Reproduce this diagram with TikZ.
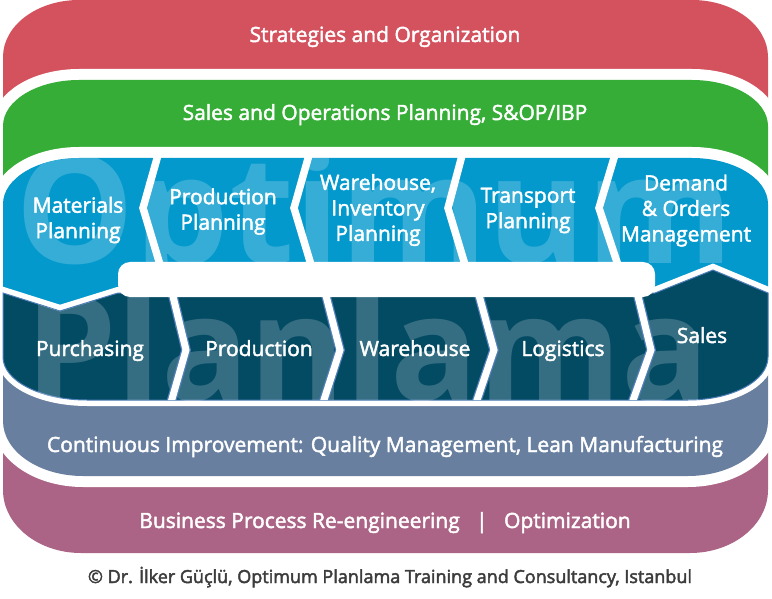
\documentclass[tikz,border=0pt]{standalone}
\usepackage{fontspec}
\setmainfont{Open Sans}
\definecolor{cred}{HTML}{D4515E}
\definecolor{cgreen}{HTML}{35AD37}
\definecolor{cblue}{HTML}{0399CC}
\definecolor{cdark}{HTML}{034A63}
\definecolor{cslate}{HTML}{687F9F}
\definecolor{cmauve}{HTML}{AB6485}
\definecolor{cedge}{HTML}{4F7FB8}
\definecolor{ccap}{HTML}{3C3C3C}
% top band: top y, corner ry, bottom y
\newcommand{\TopBand}[3]{(3,#3) -- (3,{#1+#2}) .. controls (3,{#1+0.448*#2}) and (37,#1) .. (79,#1) -- (692,#1) .. controls (734,#1) and (768,{#1+0.448*#2}) .. (768,{#1+#2}) -- (768,#3) -- cycle}
% bottom band: top y, bottom y, corner ry, corner rx
\newcommand{\BotBand}[4]{(3,#1) -- (3,{#2-#3}) .. controls (3,{#2-0.448*#3}) and ({3+0.448*#4},#2) .. ({3+#4},#2) -- ({768-#4},#2) .. controls ({768-0.448*#4},#2) and (768,{#2-0.448*#3}) .. (768,{#2-#3}) -- (768,#1) -- cycle}
\newcommand{\DarkPath}{(3,293) -- (60,311) -- (118,293) -- (655,293) -- (713,270) -- (768,293) -- (768,357) .. controls (768,381) and (732,400) .. (688,400) -- (87,400) .. controls (41,400) and (3,381) .. (3,357) -- cycle}
\begin{document}
\begin{tikzpicture}[x=1pt,y=-1pt,line join=miter,
  halo/.style={preaction={draw=white,line width=#1}},
  halo/.default=22,
  heavy/.style={execute at begin node={\special{pdf:literal direct 2 Tr 0.45 w}},
                execute at end node={\special{pdf:literal direct 0 Tr 0.4 w}}},
  lbl/.style={text=white,font=\fontsize{21}{25.5}\selectfont,align=center,inner sep=0pt,heavy},
  wmark/.style={anchor=base west,inner sep=0pt,text=white,opacity=0.2,font=\fontsize{150}{150}\selectfont\bfseries},
  bluesep/.style={draw=white,line width=7.5pt},
  darksepedge/.style={draw=cedge,line width=9.5pt},
  darksep/.style={draw=white,line width=7pt}]
\useasboundingbox (0,0) rectangle (772,599);
\fill[white] (0,0) rectangle (772,599);
% back layers
\path[fill=cred] \TopBand{0}{57}{300};
\path[fill=cgreen,halo] \TopBand{80}{46}{300};
\path[fill=cblue,halo] \TopBand{158}{46}{330};
\begin{scope}
  \clip \TopBand{158}{46}{330};
  \node[wmark] (wm1) at (15,263) {Optimum};
\end{scope}
% planning separators
\draw[bluesep] (160,148) -- (143,208) -- (161,268);
\draw[bluesep] (311,148) -- (294,208) -- (312,268);
\draw[bluesep] (464,148) -- (448,208) -- (466,268);
\draw[bluesep] (617,148) -- (599,208) -- (619,268);
% bottom layers
\path[fill=cmauve] \BotBand{340}{553}{63}{78};
\path[fill=cslate,halo] \BotBand{340}{476}{55}{80};
% execution row
\path[fill=cdark,halo=12pt] \DarkPath;
\draw[cedge,line width=1pt] \DarkPath;
\begin{scope}
  \clip \DarkPath;
  \node[wmark,font=\fontsize{146}{146}\selectfont\bfseries] (wm2) at (25,400) {Planlama};
  \draw[darksepedge] (171,288) -- (186,350) -- (170,406);
  \draw[darksep] (171,288) -- (186,350) -- (170,406);
  \draw[darksepedge] (324,288) -- (340,350) -- (322,406);
  \draw[darksep] (324,288) -- (340,350) -- (322,406);
  \draw[darksepedge] (477,288) -- (494,350) -- (475,406);
  \draw[darksep] (477,288) -- (494,350) -- (475,406);
  \draw[darksepedge] (636,288) -- (651,350) -- (631,406);
  \draw[darksep] (636,288) -- (651,350) -- (631,406);
\end{scope}
% white bar
\fill[white,rounded corners=12pt] (118,262) rectangle (655,297);
% texts
\node[lbl,anchor=base] (t1) at (385,42) {Strategies and Organization};
\node[lbl,anchor=base] (t2) at (385,120) {Sales and Operations Planning, S\&OP/IBP};
\node[lbl] (p1) at (78,220) {Materials\\Planning};
\node[lbl] (p2) at (223,211.5) {Production\\Planning};
\node[lbl] (p3) at (378,210) {Warehouse,\\Inventory\\Planning};
\node[lbl] (p4) at (528,210.5) {Transport\\Planning};
\node[lbl] (p5) at (686,210.5) {Demand\\\& Orders\\Management};
\node[lbl,anchor=base] (d1) at (90,356) {Purchasing};
\node[lbl,anchor=base] (d2) at (259,356) {Production};
\node[lbl,anchor=base] (d3) at (415,356) {Warehouse};
\node[lbl,anchor=base] (d4) at (563,356) {Logistics};
\node[lbl,anchor=base] (d5) at (702,343) {Sales};
\node[lbl,anchor=base] (c1) at (385,452) {Continuous Improvement: Quality Management, Lean Manufacturing};
\node[lbl,anchor=base] (c2) at (385,528) {Business Process Re-engineering~~~|~~~Optimization};
\node[anchor=base,text=ccap,font=\fontsize{18}{18}\selectfont,inner sep=0pt,heavy] (cap) at (390,583) {© Dr. İlker Güçlü, Optimum Planlama Training and Consultancy, Istanbul};
\end{tikzpicture}
\end{document}
